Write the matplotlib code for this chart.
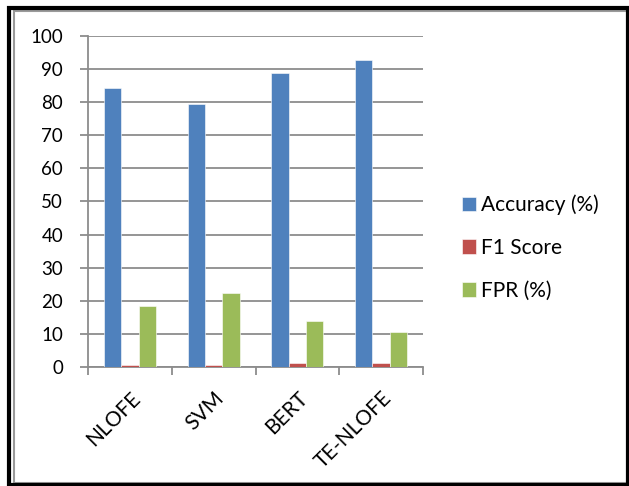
import numpy as np
import matplotlib
matplotlib.use("Agg")
import matplotlib.pyplot as plt
from matplotlib.patches import Rectangle

plt.rcParams['font.family'] = ['Lato', 'DejaVu Sans']

models = ['NLOFE', 'SVM', 'BERT', 'TE-NLOFE']
accuracy = [84.3, 79.5, 88.8, 92.7]
f1_score = [0.6, 0.6, 1.1, 1.1]
fpr = [18.4, 22.3, 14.0, 10.7]

series = [('Accuracy (%)', accuracy, '#4F81BD'),
          ('F1 Score', f1_score, '#C0504D'),
          ('FPR (%)', fpr, '#9BBB59')]

fig = plt.figure(figsize=(6.29, 4.86), dpi=100)
ax = fig.add_axes([0.14, 0.245, 0.5325, 0.681])

x = np.arange(len(models))
w = 0.207
for i, (name, vals, col) in enumerate(series):
    ax.bar(x + (i - 1) * w, vals, w, color=col, label=name,
           edgecolor='white', linewidth=0.4, zorder=3)

ax.set_xlim(-0.5, len(models) - 0.5)
ax.set_ylim(0, 100)
ax.set_yticks(range(0, 101, 10))
ax.yaxis.grid(True, color='#8c8c8c', linewidth=1.3, zorder=0)
ax.set_axisbelow(True)

for s in ['top', 'right']:
    ax.spines[s].set_visible(False)
for s in ['left', 'bottom']:
    ax.spines[s].set_color('#8c8c8c')
    ax.spines[s].set_linewidth(1.3)

ax.set_xticks(np.arange(-0.5, len(models), 1.0))
ax.set_xticklabels([])
ax.set_xticks(x, minor=True)
ax.set_xticklabels(models, minor=True, rotation=45, ha='right',
                   rotation_mode='anchor', fontsize=15)
ax.tick_params(axis='x', which='major', length=6, width=1.3, color='#8c8c8c')
ax.tick_params(axis='x', which='minor', length=0, pad=15)
ax.tick_params(axis='y', length=6, width=1.3, color='#8c8c8c',
               labelsize=13.5, pad=12)

ax.legend(loc='center left', bbox_to_anchor=(1.06, 0.36), frameon=False,
          fontsize=15, handlelength=0.7, handleheight=0.7,
          handletextpad=0.2, labelspacing=1.1)

# outer frame like the pasted screenshot
fig.patches.append(Rectangle((14 / 629, 3 / 486), 613 / 629, 472 / 486,
                             transform=fig.transFigure, fill=False,
                             edgecolor='#9a9a9a', linewidth=1.5))
fig.patches.append(Rectangle((9 / 629, 1 / 486), 619 / 629, 477 / 486,
                             transform=fig.transFigure, fill=False,
                             edgecolor='black', linewidth=3))

fig.savefig('out.png', dpi=100)
